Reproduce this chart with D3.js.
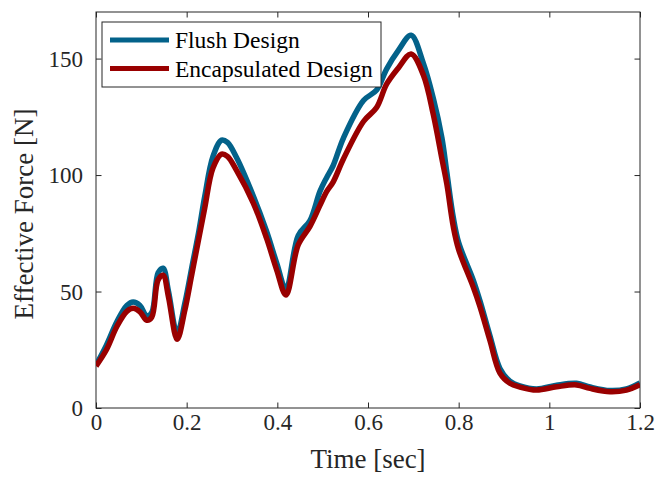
<!DOCTYPE html>
<html><head><meta charset="utf-8">
<script src="https://cdn.jsdelivr.net/npm/d3@7"></script>
<style>body{margin:0;background:#fff}svg{display:block}</style>
</head><body>
<svg id="c" width="656" height="486"></svg>
<script>
const time = [0.000,0.023,0.046,0.068,0.082,0.097,0.112,0.123,0.137,0.148,0.160,0.179,0.196,0.211,0.226,0.240,0.258,0.277,0.290,0.310,0.347,0.376,0.399,0.419,0.446,0.472,0.494,0.509,0.523,0.546,0.590,0.619,0.641,0.667,0.695,0.722,0.744,0.763,0.774,0.788,0.800,0.832,0.847,0.869,0.891,0.913,0.935,0.972,1.016,1.060,1.090,1.134,1.170,1.200];
const flush = [18.5,27,37,44,45.5,44,39.5,41,58,60,50,32,45,60,75,91,108,115,114,107.5,91,76,62,51,74,80.5,93,99,104,116,132,136.5,145.5,153.5,160,148,133,116,101,82,71,55,46,31,17,11.5,9.5,8.2,9.8,10.6,9,7.5,8.2,10.8];
const encap = [18,25,35,41.5,42.8,41.3,37.7,39,55,57,47.5,29.5,42,57,72,86,103,109,108,102,88,73,59,48.5,70,78,87,93,97,107,123,129,139,146,152,143,126,107,96,78,68,52,43.5,29,15,10.6,9,7.7,9.1,9.9,8.4,7,7.7,10];
const xTicks = [0,0.2,0.4,0.6,0.8,1,1.2];
const yTicks = [0,50,100,150];
const seriesNames = ["Flush Design","Encapsulated Design"];
const seriesColors = ["#03628a","#990000"];

const svg = d3.select("#c");
const L=96,R=640,T=12,B=408;
const x = d3.scaleLinear().domain([0,1.2]).range([L,R]);
const y = d3.scaleLinear().domain([0,170]).range([B,T]);
const font = "'Liberation Serif','Times New Roman',serif";
const axc = "#262626";

svg.append("rect").attr("x",L).attr("y",T).attr("width",R-L).attr("height",B-T)
  .attr("fill","none").attr("stroke",axc).attr("stroke-width",1);

const tl = 5.5;
const axG = svg.append("g").attr("transform",`translate(0,${B})`)
  .call(d3.axisBottom(x).tickValues(xTicks).tickSize(-tl).tickPadding(22).tickFormat(d=>String(d)));
const axT = svg.append("g").attr("transform",`translate(0,${T})`)
  .call(d3.axisTop(x).tickValues(xTicks).tickSize(-tl).tickFormat(""));
const ayG = svg.append("g").attr("transform",`translate(${L},0)`)
  .call(d3.axisLeft(y).tickValues(yTicks).tickSize(-tl).tickPadding(13).tickFormat(d=>String(d)));
const ayR = svg.append("g").attr("transform",`translate(${R},0)`)
  .call(d3.axisRight(y).tickValues(yTicks).tickSize(-tl).tickFormat(""));
[axG,axT,ayG,ayR].forEach(a=>{
  a.select(".domain").remove();
  a.selectAll("line").attr("stroke",axc);
  a.selectAll("text").attr("fill",axc).style("font-family",font).style("font-size","23px");
});
axG.selectAll("text").attr("dy","0");
ayG.selectAll("text").attr("dy","0.33em");

const series = [flush, encap];
const line = d3.line().x((d,i)=>x(time[i])).y(d=>y(d)).curve(d3.curveCatmullRom.alpha(0.5));
svg.append("clipPath").attr("id","pc").append("rect").attr("x",L).attr("y",T).attr("width",R-L).attr("height",B-T);
series.forEach((s,k)=>{
  svg.append("path").datum(s).attr("d",line).attr("fill","none")
    .attr("stroke",seriesColors[k]).attr("stroke-width",5.5).attr("stroke-linejoin","round")
    .attr("clip-path","url(#pc)");
});

const lg = svg.append("g");
lg.append("rect").attr("x",102).attr("y",22).attr("width",279).attr("height",65)
  .attr("fill","#fff").attr("stroke",axc).attr("stroke-width",1);
seriesNames.forEach((n,k)=>{
  const yy = 40 + k*28.5;
  lg.append("line").attr("x1",110).attr("x2",169).attr("y1",yy).attr("y2",yy)
    .attr("stroke",seriesColors[k]).attr("stroke-width",5);
  lg.append("text").attr("x",175).attr("y",yy+8).text(n)
    .attr("fill","#000").style("font-family",font).style("font-size","23.5px");
});

svg.append("text").attr("x",(L+R)/2).attr("y",468).attr("text-anchor","middle")
  .text("Time [sec]").attr("fill",axc).style("font-family",font).style("font-size","27px");
svg.append("text").attr("transform",`translate(33,214) rotate(-90)`).attr("text-anchor","middle")
  .text("Effective Force [N]").attr("fill",axc).style("font-family",font).style("font-size","27px");
</script>
</body></html>
